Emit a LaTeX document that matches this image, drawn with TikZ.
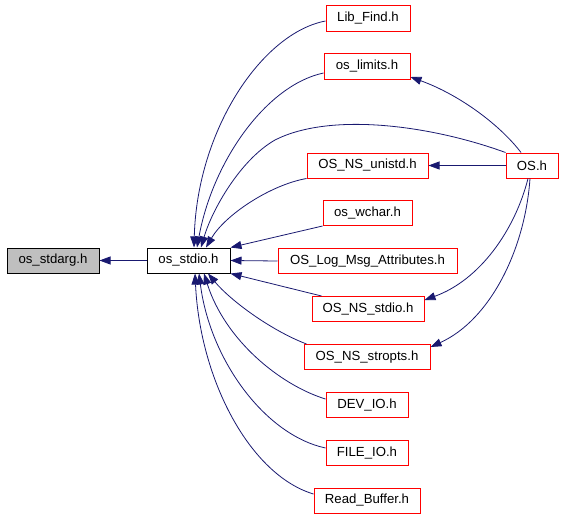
\documentclass[tikz,border=0pt]{standalone}
\usepackage{fontspec}
\setmainfont{Liberation Sans}
\usetikzlibrary{arrows.meta}
\definecolor{edgeblue}{RGB}{25,25,112}
\definecolor{stdgray}{RGB}{191,191,191}
\begin{document}
\begin{tikzpicture}[x=1pt,y=-1pt,
  box/.style={draw=red, line width=1pt, minimum height=25pt, inner sep=0pt, fill=white, font=\fontsize{13.2}{15}\selectfont},
  mainbox/.style={box, draw=black},
  rootbox/.style={box, draw=black, fill=stdgray},
  edge/.style={draw=edgeblue, line width=0.8pt, -{Triangle[length=11pt,width=8pt]}}]
\useasboundingbox (0,0) rectangle (563,517);
% nodes
\node[rootbox, minimum width=92pt] (stdarg) at (53,260.5) {os\_stdarg.h};
\node[mainbox, minimum width=83pt] (stdio) at (188.5,260.5) {os\_stdio.h};
\node[box, minimum width=84pt, minimum height=26pt] (libfind) at (368,18) {Lib\_Find.h};
\node[box, minimum width=86pt, minimum height=26pt] (limits) at (367,66) {os\_limits.h};
\node[box, minimum width=121pt] (unistd) at (367.5,165.5) {OS\_NS\_unistd.h};
\node[box, minimum width=52pt] (osh) at (532,165.5) {OS.h};
\node[box, minimum width=89pt] (wchar) at (367.5,213) {os\_wchar.h};
\node[box, minimum width=179pt] (logmsg) at (367.5,261) {OS\_Log\_Msg\_Attributes.h};
\node[box, minimum width=112pt] (nsstdio) at (368,309) {OS\_NS\_stdio.h};
\node[box, minimum width=126pt] (stropts) at (367,357) {OS\_NS\_stropts.h};
\node[box, minimum width=82pt] (devio) at (367,405) {DEV\_IO.h};
\node[box, minimum width=82pt] (fileio) at (367,453) {FILE\_IO.h};
\node[box, minimum width=106pt] (readbuf) at (367,500.5) {Read\_Buffer.h};
% edges into os_stdio
\draw[edge] (stdio.west) -- (stdarg.east);
\draw[edge] ([yshift=-3pt]libfind.west) .. controls (262,33) and (197,130) .. ([xshift=5.5pt]stdio.north);
\draw[edge] ([yshift=-7pt]limits.west) .. controls (267,85) and (213,160) .. ([xshift=8.5pt]stdio.north);
\draw[edge] (osh.north west) .. controls (430,125) and (330,112) .. (275,140) .. controls (240,160) and (212,210) .. ([xshift=12.5pt]stdio.north);
\draw[edge] (unistd.south west) .. controls (270,185) and (225,215) .. ([xshift=17.5pt]stdio.north);
\draw[edge] (wchar.south west) -- (stdio.north east);
\draw[edge] (logmsg.west) -- (stdio.east);
\draw[edge] ([xshift=10pt]nsstdio.north west) -- (stdio.south east);
\draw[edge] ([xshift=3pt]stropts.north west) .. controls (270,330) and (230,300) .. ([xshift=19.5pt]stdio.south);
\draw[edge] ([yshift=6pt]devio.west) .. controls (280,385) and (225,340) .. ([xshift=15.5pt]stdio.south);
\draw[edge] ([yshift=5pt]fileio.west) .. controls (265,435) and (210,360) .. ([xshift=10.5pt]stdio.south);
\draw[edge] ([yshift=6.5pt]readbuf.west) .. controls (250,475) and (200,380) .. ([xshift=6.5pt]stdio.south);
% edges from OS.h
\draw[edge] ([xshift=-11pt]osh.north) .. controls (500,125) and (460,95) .. ([yshift=-11pt]limits.east);
\draw[edge] (osh.west) -- (unistd.east);
\draw[edge] ([xshift=-4pt]osh.south) .. controls (515,230) and (480,280) .. ([yshift=9pt]nsstdio.east);
\draw[edge] ([xshift=-2pt]osh.south) .. controls (525,250) and (490,320) .. ([yshift=10pt]stropts.east);
\end{tikzpicture}
\end{document}
